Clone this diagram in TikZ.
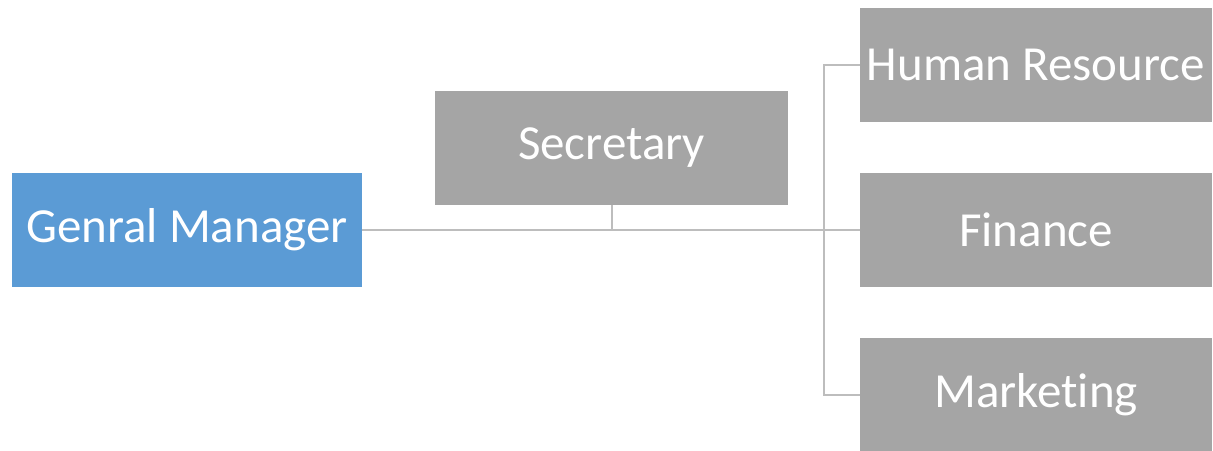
\documentclass[tikz,border=0pt]{standalone}
\usepackage{fontspec}
\setmainfont{Carlito}[Ligatures=NoCommon]
\begin{document}
\begin{tikzpicture}[x=1pt,y=-1pt,
  box/.style={rectangle, inner sep=0pt, minimum width=350pt, minimum height=114pt, text=white, font=\fontsize{49}{59}\selectfont},
  bluebox/.style={box, fill=gmblue},
  graybox/.style={box, fill=boxgray},
  conn/.style={draw=linegray, line width=2pt}]
\definecolor{gmblue}{HTML}{5B9BD5}
\definecolor{boxgray}{HTML}{A5A5A5}
\definecolor{linegray}{HTML}{BDBDBD}
\useasboundingbox (0,0) rectangle (1213,450);
\node[bluebox, minimum width=350pt, minimum height=114pt] (gm) at (187,230) {Genral Manager};
\node[graybox, minimum width=353pt, minimum height=114pt] (sec) at (611.5,148) {Secretary};
\node[graybox, minimum width=352pt, minimum height=114pt] (hr) at (1036,65) {Human Resource};
\node[graybox, minimum width=352pt, minimum height=114pt] (fin) at (1036,230) {Finance};
\node[graybox, minimum width=352pt, minimum height=114pt] (mkt) at (1036,395) {Market\kern0pt ing};
\coordinate (j) at (612,230);
\coordinate (v) at (824,230);
\draw[conn] (gm.east) -- (fin.west);
\draw[conn] (sec.south -| j) -- (j);
\draw[conn] (hr.west) -- (hr.west -| v) -- (mkt.west -| v) -- (mkt.west);
\end{tikzpicture}
\end{document}
